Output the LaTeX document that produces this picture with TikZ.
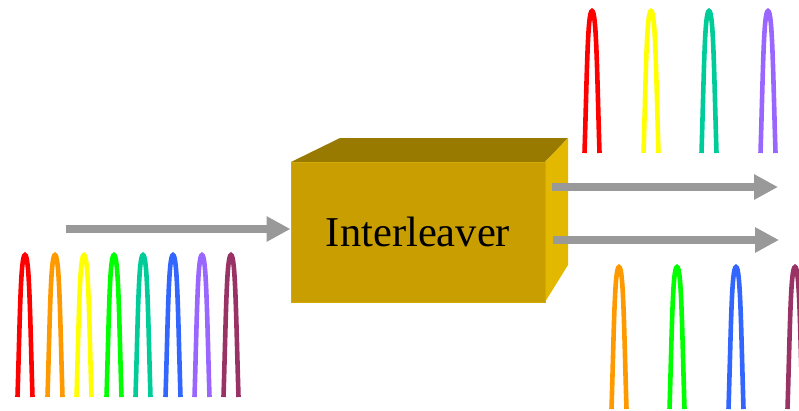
\documentclass[tikz,border=0pt]{standalone}
\usepackage{fontspec}
\setmainfont{Liberation Serif}
\usetikzlibrary{arrows.meta}
\definecolor{pRed}{HTML}{FF0000}
\definecolor{pOrange}{HTML}{FF9900}
\definecolor{pYellow}{HTML}{FFFF00}
\definecolor{pGreen}{HTML}{00FF00}
\definecolor{pTeal}{HTML}{00CC99}
\definecolor{pBlue}{HTML}{3366FF}
\definecolor{pPurple}{HTML}{9966FF}
\definecolor{pMaroon}{HTML}{993366}
\definecolor{boxFront}{HTML}{C89E00}
\definecolor{boxTop}{HTML}{997A00}
\definecolor{boxSide}{HTML}{E2B800}
\definecolor{boxEdge}{HTML}{D2AA08}
\definecolor{arrowGray}{HTML}{999999}
\tikzset{
  pulse/.pic={\draw[line width=4.6pt,#1]
    (-7.5,0) .. controls (-5,-80) and (-4.5,-142) .. (0,-142)
    .. controls (4.5,-142) and (5,-80) .. (7.5,0);},
  garrow/.style={draw=arrowGray,line width=8pt,
    -{Triangle[length=24pt,width=24pt,fill=arrowGray]}},
  frontface/.style={fill=boxFront,draw=boxEdge,line width=1pt,
    minimum width=254pt,minimum height=140pt,inner sep=0pt,
    font=\fontsize{42.5}{50}\selectfont}
}
\begin{document}
\begin{tikzpicture}[x=1pt,y=-1pt]
\useasboundingbox (0,0) rectangle (799,410);
\clip (0,0) rectangle (799,410);
% box
\fill[boxTop] (291,162) -- (340,138) -- (568,138) -- (545,162) -- cycle;
\fill[boxSide] (545,162) -- (568,138) -- (568,265) -- (545,302) -- cycle;
\node[frontface] (box) at (418,232) {\raisebox{-2pt}{Interleaver}};
% arrows
\coordinate (inS) at (66,229);
\draw[garrow] (inS) -- (box.west |- inS);
\coordinate (o1s) at (552,187);
\coordinate (o1e) at (778,187);
\coordinate (o2s) at (553,240);
\coordinate (o2e) at (779,240);
\draw[garrow] (o1s) -- (o1e);
\draw[garrow] (o2s) -- (o2e);
% input pulses
\pic at (25,397) {pulse=pRed};
\pic at (55,397) {pulse=pOrange};
\pic at (84,397) {pulse=pYellow};
\pic at (114,397) {pulse=pGreen};
\pic at (143,397) {pulse=pTeal};
\pic at (173,397) {pulse=pBlue};
\pic at (202,397) {pulse=pPurple};
\pic at (231,397) {pulse=pMaroon};
% upper output pulses
\pic at (592,153) {pulse=pRed};
\pic at (651,153) {pulse=pYellow};
\pic at (709,153) {pulse=pTeal};
\pic at (768,153) {pulse=pPurple};
% lower output pulses
\pic at (619,409) {pulse=pOrange};
\pic at (677,409) {pulse=pGreen};
\pic at (736,409) {pulse=pBlue};
\pic at (795,409) {pulse=pMaroon};
\end{tikzpicture}
\end{document}
